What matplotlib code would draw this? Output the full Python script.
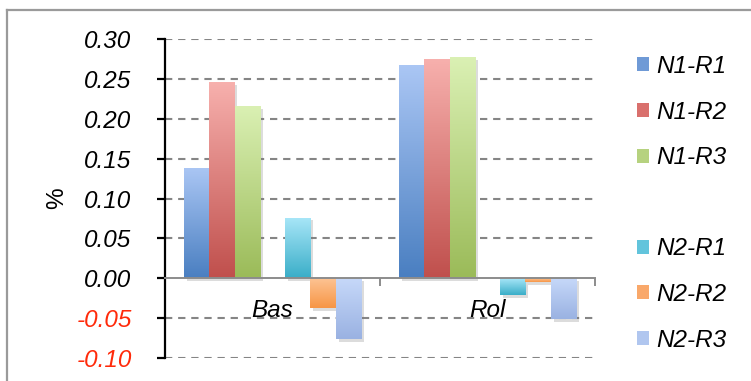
import matplotlib.pyplot as plt
import matplotlib.patheffects as pe
from matplotlib.lines import Line2D
from matplotlib.patches import Patch
from matplotlib.colors import to_rgb
import numpy as np

# données
categories = ['Bas', 'Rol']
series_names = ['N1-R1', 'N1-R2', 'N1-R3', '', 'N2-R1', 'N2-R2', 'N2-R3']
n1_r1 = [0.138, 0.267]
n1_r2 = [0.246, 0.275]
n1_r3 = [0.216, 0.277]
empty = [0.0, 0.0]
n2_r1 = [0.076, -0.021]
n2_r2 = [-0.037, -0.005]
n2_r3 = [-0.076, -0.051]
values = [n1_r1, n1_r2, n1_r3, empty, n2_r1, n2_r2, n2_r3]
y_ticks = [-0.10, -0.05, 0.00, 0.05, 0.10, 0.15, 0.20, 0.25, 0.30]

# couleurs (bas foncé, haut clair)
dark = ['#4a7fc1', '#c0504d', '#9bbb59', None, '#3aaec8', '#f79646', '#9ab2e2']
light = ['#aac6f4', '#f7b0ad', '#daf0b3', None, '#a8e6f8', '#fdc393', '#c6d8f9']
mid = ['#6f9ad6', '#d9706d', '#b6d27f', None, '#62c4dc', '#f9a86a', '#b0c6ef']

FS = 17.5
plt.rcParams['font.family'] = ['Liberation Sans', 'DejaVu Sans']

fig = plt.figure(figsize=(7.51, 3.81), dpi=100, facecolor='white')
ax = fig.add_axes([165 / 751, 1 - 358 / 381, 430 / 751, 319 / 381])

x = np.arange(len(categories))
width = 0.1177
for k, vals in enumerate(values):
    if dark[k] is None:
        continue
    offset = (k - 3) * width
    bars = ax.bar(x + offset, vals, width, color=mid[k], zorder=3,
                  path_effects=[pe.SimplePatchShadow(offset=(2, -2), shadow_rgbFace='#777777', alpha=0.25),
                                pe.Normal()])
    grad = np.linspace(0, 1, 64)[:, None, None]
    c0 = np.array(to_rgb(dark[k]))
    c1 = np.array(to_rgb(light[k]))
    img = c0 + (c1 - c0) * grad
    for b in bars:
        x0 = b.get_x()
        y0, y1 = sorted([b.get_y(), b.get_y() + b.get_height()])
        im = ax.imshow(img, extent=(x0, x0 + b.get_width(), y0, y1), origin='lower',
                       aspect='auto', zorder=4, interpolation='bilinear')
        im.set_clip_path(b)

ax.set_xlim(-0.5, 1.5)
ax.set_ylim(-0.10, 0.30)

# grille pointillée
for v in y_ticks:
    if v != 0:
        ax.axhline(v, color='#858585', lw=1.5, ls=(0, (3.5, 2.8)), zorder=1)

# axes
for s in ['top', 'right']:
    ax.spines[s].set_visible(False)
ax.spines['left'].set_color('black')
ax.spines['left'].set_linewidth(1.6)
ax.spines['bottom'].set_position(('data', 0))
ax.spines['bottom'].set_color('#8c8c8c')
ax.spines['bottom'].set_linewidth(1.4)
ax.spines['bottom'].set_zorder(5)

ax.set_yticks(y_ticks)
ax.set_yticklabels([f'{v:.2f}' for v in y_ticks], fontsize=FS, style='italic')
ax.tick_params(axis='y', length=6, width=1.6, pad=18)
for lab, v in zip(ax.get_yticklabels(), y_ticks):
    lab.set_color('#ff2a0a' if v < 0 else 'black')

ax.set_xticks([-0.5, 0.5, 1.5])
ax.set_xticklabels([])
ax.tick_params(axis='x', length=6, width=1.4, color='#8c8c8c', direction='out')
for xi, cat in zip(x, categories):
    ax.text(xi, -0.040, cat, fontsize=FS, style='italic', ha='center', va='center', zorder=6)

ax.set_ylabel('%', fontsize=FS, va='center')
ax.yaxis.set_label_coords(-0.25, 0.5)

# légende
handles = []
for k, name in enumerate(series_names):
    if mid[k] is None:
        handles.append(Patch(facecolor='none', edgecolor='none'))
    else:
        handles.append(Patch(facecolor=mid[k], edgecolor='none'))
leg = fig.legend(handles, [n if n else ' ' for n in series_names],
                 loc='upper left', bbox_to_anchor=(637 / 751, 1 - 55 / 381),
                 frameon=False, fontsize=FS, handlelength=0.5, handleheight=0.5,
                 handletextpad=0.3, labelspacing=0.93, borderpad=0, borderaxespad=0)
for t in leg.get_texts():
    t.set_style('italic')

# cadre
fig.add_artist(Line2D([7 / 751, 7 / 751], [0, 1 - 10 / 381], color='#9a9a9a', lw=1.6))
fig.add_artist(Line2D([7 / 751, 1], [1 - 10 / 381, 1 - 10 / 381], color='#9a9a9a', lw=1.6))

fig.savefig('out.png', dpi=100)
